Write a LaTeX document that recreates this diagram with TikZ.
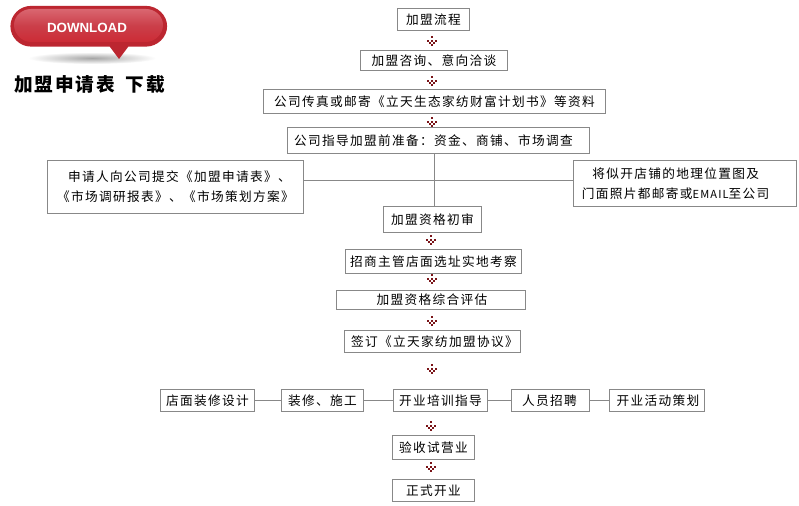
\documentclass[tikz,border=0pt]{standalone}
\usepackage{fontspec}
\setmainfont{Liberation Sans}
\newfontfamily\cjk[LetterSpace=10.5]{Noto Sans CJK SC}
\newfontfamily\cjkt[LetterSpace=10]{Noto Sans CJK SC}
\newfontfamily\latn{Liberation Sans}
\definecolor{boxline}{HTML}{888888}
\definecolor{dotred}{HTML}{7A1418}
\definecolor{btnedge}{HTML}{BC2630}
\definecolor{btntop}{HTML}{DA6670}
\definecolor{btnmid}{HTML}{CB3F4A}
\definecolor{btnlow}{HTML}{CC2B35}
\tikzset{
  flowbox/.style={draw=boxline,line width=0.75pt,inner sep=0pt,outer sep=0pt,align=center,font=\cjk\fontsize{9.5}{15}\selectfont,text=black},
  flowline/.style={draw=boxline,line width=0.75pt},
  dotmark/.style={fill=dotred}
}
\newcommand{\bx}[6]{\node[flowbox,minimum width={(#3-#2)*0.75pt},minimum height={(#5-#4)*0.75pt}] (#1) at ({(#2+#3)/2+0.5},{(#4+#5)/2+0.5}) {#6};}
\newcommand{\dm}[2]{\begin{scope}[shift={(#1,#2)}]
 \foreach \a/\b in {0/-4,-4/0,0/0,4/0,-2/2,2/2,0/4}{\fill[dotmark] (\a-1,\b-1) rectangle (\a+1,\b+1);}
 \end{scope}}
\begin{document}
\begin{tikzpicture}[x=0.75pt,y=-0.75pt]
\useasboundingbox (0,0) rectangle (799,506);
\fill[white] (0,0) rectangle (799,506);
% button shadow
\begin{scope}
\clip (20,50) rectangle (165,68);
\shade[inner color=black!35,outer color=white] (92,58) ellipse (64 and 6);
\end{scope}
% button
\path[draw=btnedge,line width=0.9pt,fill=btnedge]
  (31,6.5) -- (146,6.5) .. controls (157,6.5) and (166.5,15.5) .. (166.5,26.25) .. controls (166.5,37) and (157,46) .. (146,46) -- (128,46) -- (119,58) -- (110,46) -- (31,46) .. controls (20,46) and (11,37) .. (11,26.25) .. controls (11,15.5) and (20,6.5) .. (31,6.5) -- cycle;
\path[top color=btntop,bottom color=btnlow,middle color=btnmid]
  (31,9) -- (146,9) .. controls (155,9) and (163,16) .. (163,25) .. controls (163,34) and (155,42) .. (146,42) -- (31,42) .. controls (22,42) and (14,34) .. (14,25) .. controls (14,16) and (22,9) .. (31,9) -- cycle;
\node[text=white,font=\latn\bfseries\fontsize{10}{12}\selectfont,inner sep=0pt] (dl) at (87,27.5) {DOWNLOAD};
\node[anchor=west,inner sep=0pt,font=\cjkt\bfseries\fontsize{14}{16}\selectfont] (title) at (14,84.5) {加盟申请表\hspace{8pt}下载};
% boxes
\bx{a}{397}{469}{8}{30}{加盟流程}
\bx{b}{360}{507}{50}{70}{加盟咨询、意向洽谈}
\bx{c}{263}{605}{89}{113}{公司传真或邮寄《立天生态家纺财富计划书》等资料}
\bx{d}{287}{589}{127}{153}{公司指导加盟前准备：资金、商铺、市场调查\hspace*{7.5pt}}
\bx{e}{47}{303}{160}{213}{\hspace*{6pt}申请人向公司提交《加盟申请表》、\\《市场调研报表》、《市场策划方案》}
\bx{f}{573}{796}{160}{206}{\hspace*{-14pt}将似开店铺的地理位置图及\\\hspace*{-14pt}门面照片都邮寄或{\fontsize{8.3}{15}\selectfont EMAIL}至公司}
\bx{g}{383}{481}{206}{232}{加盟资格初审}
\bx{h}{345}{521}{249}{273}{招商主管店面选址实地考察}
\bx{i}{336}{525}{290}{309}{\hspace*{1.5pt}加盟资格综合评估}
\bx{j}{344}{520}{330}{352}{\hspace*{3pt}签订《立天家纺加盟协议》}
\bx{k}{160}{254}{389}{411}{店面装修设计}
\bx{l}{281}{363}{389}{411}{装修、施工}
\bx{m}{393}{487}{389}{411}{开业培训指导}
\bx{n}{511}{589}{389}{411}{人员招聘\hspace*{1.5pt}}
\bx{o}{609}{704}{389}{411}{\hspace*{1.5pt}开业活动策划}
\bx{p}{392}{474}{435}{459}{验收试营业}
\bx{q}{392}{474}{479}{501}{正式开业}
% connectors
\coordinate (hub) at (434.5,180.5);
\draw[flowline] (hub |- d.south) -- (hub |- g.north);
\draw[flowline] (hub -| e.east) -- (hub -| f.west);
\draw[flowline] (k.east) -- (l.west);
\draw[flowline] (l.east) -- (m.west);
\draw[flowline] (m.east) -- (n.west);
\draw[flowline] (n.east) -- (o.west);
% dotted marks
\dm{432}{41}\dm{432}{81}\dm{432}{122}\dm{431}{240}\dm{432}{279}\dm{432}{321}\dm{432}{369}\dm{431}{426}\dm{431}{467}
\end{tikzpicture}
\end{document}
